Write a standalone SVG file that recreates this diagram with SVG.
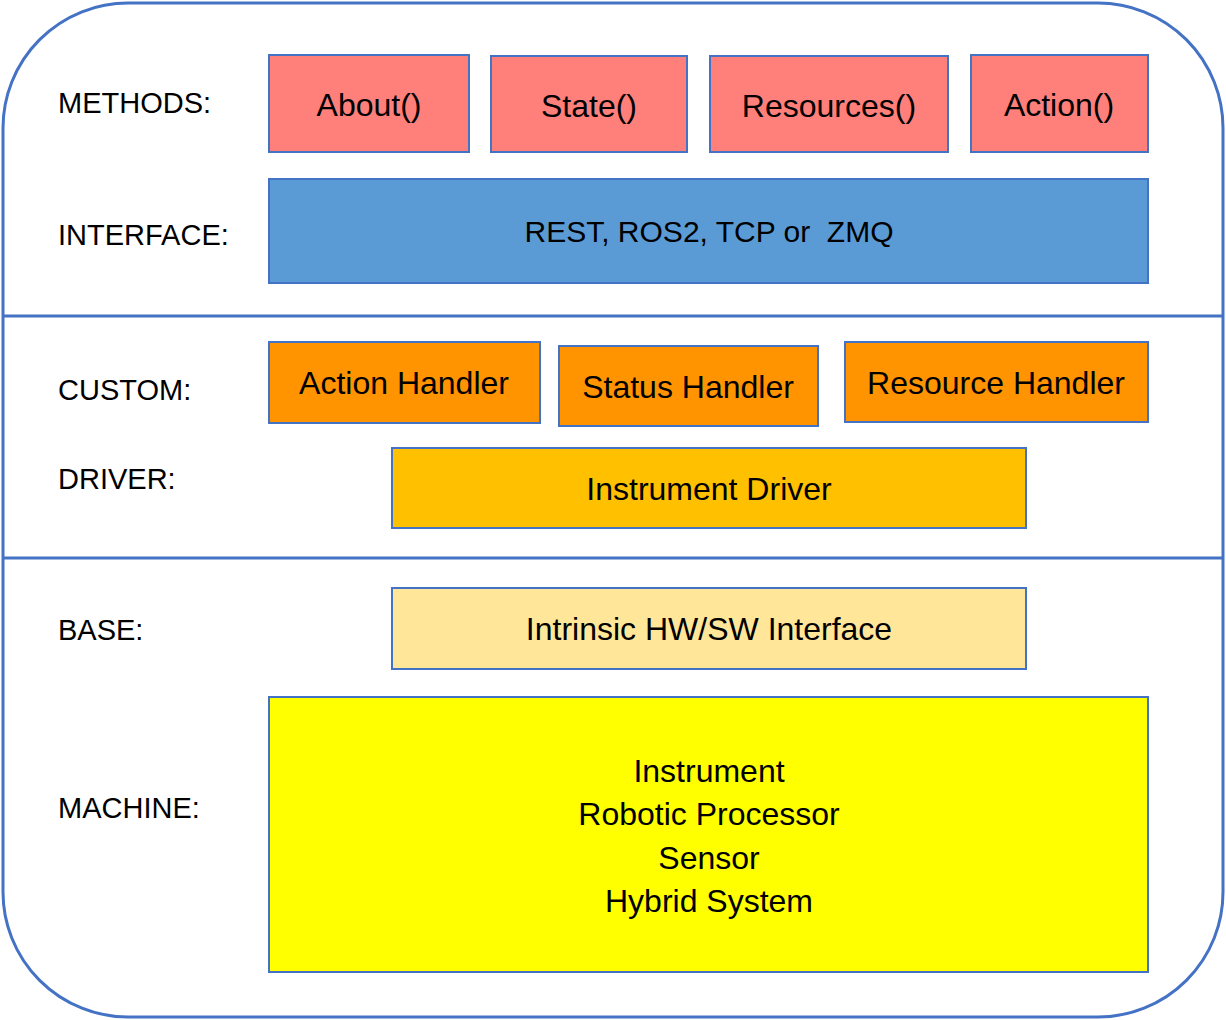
<svg xmlns="http://www.w3.org/2000/svg" width="1226" height="1020" viewBox="0 0 1226 1020">
  <style>
    .frame { fill: #ffffff; stroke: #4472C4; stroke-width: 3; }
    .divider { stroke: #4472C4; stroke-width: 3; }
    .box { stroke: #4472C4; stroke-width: 2; }
    .lbl { font-family: "Liberation Sans", Arial, sans-serif; font-size: 29px; fill: #000000; }
    .txt { font-family: "Liberation Sans", Arial, sans-serif; font-size: 32px; fill: #000000; text-anchor: middle; }
  </style>
  <rect width="1226" height="1020" fill="#ffffff"/>

  <!-- outer frame and layer dividers -->
  <g id="frame">
    <rect class="frame" x="3" y="3" width="1220" height="1014" rx="125" ry="125"/>
    <line class="divider" x1="3" y1="316" x2="1223" y2="316"/>
    <line class="divider" x1="3" y1="558" x2="1223" y2="558"/>
  </g>

  <!-- layer labels -->
  <g id="labels">
    <text class="lbl" x="58" y="113">METHODS:</text>
    <text class="lbl" x="58" y="245">INTERFACE:</text>
    <text class="lbl" x="58" y="400">CUSTOM:</text>
    <text class="lbl" x="58" y="489">DRIVER:</text>
    <text class="lbl" x="58" y="640">BASE:</text>
    <text class="lbl" x="58" y="818">MACHINE:</text>
  </g>

  <g id="about">
    <rect class="box" x="269" y="55" width="200" height="97" fill="#FF7F7B"/>
    <text class="txt" x="369" y="116">About()</text>
  </g>
  <g id="state">
    <rect class="box" x="491" y="56" width="196" height="96" fill="#FF7F7B"/>
    <text class="txt" x="589" y="117">State()</text>
  </g>
  <g id="resources">
    <rect class="box" x="710" y="56" width="238" height="96" fill="#FF7F7B"/>
    <text class="txt" x="829" y="117">Resources()</text>
  </g>
  <g id="action">
    <rect class="box" x="971" y="55" width="177" height="97" fill="#FF7F7B"/>
    <text class="txt" x="1059" y="116">Action()</text>
  </g>

  <g id="interface">
    <rect class="box" x="269" y="179" width="879" height="104" fill="#5B9BD5"/>
    <text class="txt" x="709" y="242" style="font-size:30px" xml:space="preserve">REST, ROS2, TCP or  ZMQ</text>
  </g>

  <g id="action-handler">
    <rect class="box" x="269" y="342" width="271" height="81" fill="#FF9300"/>
    <text class="txt" x="404" y="394">Action Handler</text>
  </g>
  <g id="status-handler">
    <rect class="box" x="559" y="346" width="259" height="80" fill="#FF9300"/>
    <text class="txt" x="688" y="398">Status Handler</text>
  </g>
  <g id="resource-handler">
    <rect class="box" x="845" y="342" width="303" height="80" fill="#FF9300"/>
    <text class="txt" x="996" y="394">Resource Handler</text>
  </g>

  <g id="instrument-driver">
    <rect class="box" x="392" y="448" width="634" height="80" fill="#FFC000"/>
    <text class="txt" x="709" y="500">Instrument Driver</text>
  </g>

  <g id="intrinsic-interface">
    <rect class="box" x="392" y="588" width="634" height="81" fill="#FFE699"/>
    <text class="txt" x="709" y="640">Intrinsic HW/SW Interface</text>
  </g>

  <g id="machine">
    <rect class="box" x="269" y="697" width="879" height="275" fill="#FFFF00"/>
    <text class="txt" x="709" y="782">Instrument</text>
    <text class="txt" x="709" y="825">Robotic Processor</text>
    <text class="txt" x="709" y="869">Sensor</text>
    <text class="txt" x="709" y="912">Hybrid System</text>
  </g>

  <!-- no connectors in this layer diagram -->
  <g id="connectors"/>
</svg>
